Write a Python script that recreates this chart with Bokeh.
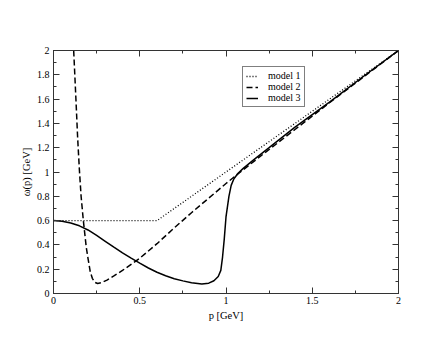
from bokeh.plotting import figure
from bokeh.models import Range1d, LinearAxis, FixedTicker, Legend, LegendItem
from bokeh.embed import file_html
from bokeh.resources import INLINE

# data
model1_p = [0.0, 0.6, 2.0]
model1_w = [0.6, 0.6, 2.0]

model2_p = [0.117, 0.13, 0.14, 0.15, 0.16, 0.173, 0.19, 0.2, 0.213, 0.225, 0.24, 0.256,
            0.28, 0.31, 0.35, 0.4, 0.45, 0.5, 0.6, 0.7, 0.8, 0.9, 1.0, 1.056, 1.2, 1.4,
            1.6, 1.8, 2.0]
model2_w = [2.0, 1.6, 1.28, 1.02, 0.8, 0.6, 0.38, 0.29, 0.18, 0.125, 0.092, 0.082,
            0.09, 0.11, 0.145, 0.19, 0.24, 0.29, 0.41, 0.54, 0.665, 0.785, 0.905, 0.97,
            1.13, 1.35, 1.57, 1.785, 2.0]

model3_p = [0.0, 0.05, 0.1, 0.15, 0.2, 0.25, 0.3, 0.35, 0.4, 0.45, 0.5, 0.55,
            0.6, 0.65, 0.7, 0.75, 0.8, 0.86, 0.9, 0.93, 0.955, 0.97, 0.98, 0.99, 1.0,
            1.017, 1.03, 1.046, 1.07, 1.1, 1.16, 1.25, 1.4, 1.6, 1.8, 2.0]
model3_w = [0.6, 0.595, 0.58, 0.557, 0.523, 0.478, 0.43, 0.382, 0.335, 0.292, 0.25, 0.21,
            0.175, 0.146, 0.122, 0.104, 0.088, 0.078, 0.085, 0.105, 0.14, 0.19, 0.3,
            0.45, 0.63, 0.8, 0.89, 0.945, 0.99, 1.03, 1.1, 1.2, 1.37, 1.575, 1.79, 2.0]

x_ticks = [0, 0.5, 1, 1.5, 2]
x_minor = [0.25, 0.75, 1.25, 1.75]
y_ticks = [0, 0.2, 0.4, 0.6, 0.8, 1.0, 1.2, 1.4, 1.6, 1.8, 2.0]
y_minor = [0.1, 0.3, 0.5, 0.7, 0.9, 1.1, 1.3, 1.5, 1.7, 1.9]
x_labels = {0: "0", 0.5: "0.5", 1: "1", 1.5: "1.5", 2: "2"}
y_labels = {0: "0", 0.2: "0.2", 0.4: "0.4", 0.6: "0.6", 0.8: "0.8", 1: "1",
            1.2: "1.2", 1.4: "1.4", 1.6: "1.6", 1.8: "1.8", 2: "2"}

FONT = "Liberation Serif"

p = figure(width=440, height=329, output_backend="svg", toolbar_location=None,
           x_range=Range1d(0, 2), y_range=Range1d(0, 2),
           x_axis_label="p [GeV]", y_axis_label="ω(p) [GeV]")
p.min_border_left = 53
p.min_border_top = 50
p.min_border_right = 42
p.min_border_bottom = 36
p.xgrid.visible = False
p.ygrid.visible = False
p.outline_line_color = "black"
p.background_fill_color = "white"

def style(ax, ticks, minor, labels):
    ax.ticker = FixedTicker(ticks=ticks, minor_ticks=minor)
    ax.major_tick_in = 6
    ax.major_tick_out = 0
    ax.minor_tick_in = 3
    ax.minor_tick_out = 0
    ax.axis_line_color = "#333333"
    ax.major_tick_line_color = "#333333"
    ax.minor_tick_line_color = "#333333"
    ax.major_label_text_font = FONT
    ax.major_label_text_font_size = "10px"
    ax.major_label_text_color = "black"
    ax.axis_label_text_font = FONT
    ax.axis_label_text_font_size = "10.5px"
    ax.axis_label_text_font_style = "normal"
    ax.axis_label_text_color = "black"
    ax.major_label_overrides = labels

style(p.xaxis[0], x_ticks, x_minor, x_labels)
style(p.yaxis[0], y_ticks, y_minor, y_labels)
p.xaxis[0].major_label_standoff = 3
p.xaxis[0].axis_label_standoff = 3
p.yaxis[0].major_label_standoff = 4
p.yaxis[0].axis_label_standoff = 2

top = LinearAxis()
right = LinearAxis()
style(top, x_ticks, x_minor, {t: "" for t in x_ticks})
style(right, y_ticks, y_minor, {t: "" for t in y_ticks})
p.add_layout(top, "above")
p.add_layout(right, "right")

r1 = p.line(model1_p, model1_w, line_color="black", line_width=1.3, line_dash="1 2")
r2 = p.line(model2_p, model2_w, line_color="black", line_width=1.5, line_dash="6 3")
r3 = p.line(model3_p, model3_w, line_color="black", line_width=1.5)

legend = Legend(items=[LegendItem(label="model 1", renderers=[r1]),
                       LegendItem(label="model 2", renderers=[r2]),
                       LegendItem(label="model 3", renderers=[r3])],
                location=(189, 186))
legend.label_text_font = FONT
legend.label_text_font_size = "10px"
legend.label_text_color = "black"
legend.glyph_width = 12
legend.glyph_height = 10
legend.label_height = 10
legend.spacing = 0
legend.padding = 3
legend.margin = 0
legend.label_standoff = 10
legend.border_line_color = "black"
legend.border_line_width = 1
legend.background_fill_alpha = 1.0
p.add_layout(legend, "center")

open("out.html", "w").write(file_html(p, INLINE))
